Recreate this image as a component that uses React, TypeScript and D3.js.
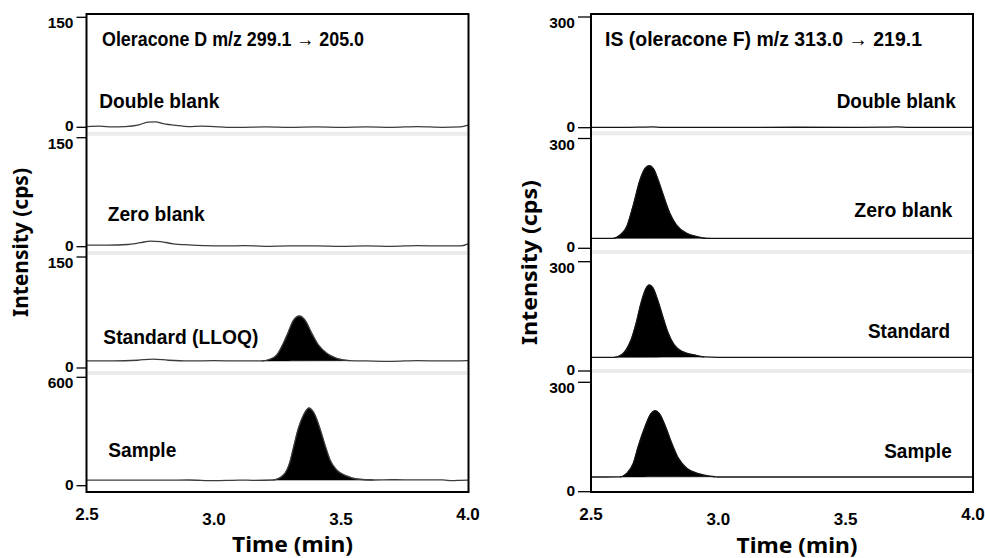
import React from 'react';
import * as d3 from 'd3';

type Pt = [number, number];

// ---------- data ----------
const timeTicks = [2.5, 3.0, 3.5, 4.0];
const timeDomain: [number, number] = [2.5, 4.0];

const leftTitle = 'Oleracone D m/z 299.1 \u2192 205.0';
const rightTitle = 'IS (oleracone F) m/z 313.0 \u2192 219.1';
const leftLabels = ['Double blank', 'Zero blank', 'Standard (LLOQ)', 'Sample'];
const rightLabels = ['Double blank', 'Zero blank', 'Standard', 'Sample'];
const leftMax = [150, 150, 150, 600];
const rightMax = [300, 300, 300, 300];
const xAxisTitle = 'Time (min)';
const yAxisTitle = 'Intensity (cps)';

const leftDoubleBlank: Pt[] = [
  [2.5, 1], [2.55, 1.5], [2.6, 0.5], [2.65, 1], [2.7, 3], [2.74, 7], [2.77, 7.5], [2.8, 5],
  [2.85, 2.5], [2.9, 1], [2.95, 1.5], [3.0, 1], [3.05, 0], [3.1, 0], [3.2, 0.5], [3.3, 0],
  [3.4, 0.5], [3.5, 0], [3.6, 0.5], [3.7, 0], [3.8, 1], [3.9, 0], [3.97, 0.5], [4.0, 3],
];
const leftZeroBlank: Pt[] = [
  [2.5, 2.3], [2.58, 2.3], [2.66, 3], [2.71, 5.5], [2.75, 7.8], [2.79, 7], [2.84, 4], [2.9, 2.5],
  [2.96, 1.5], [3.05, 1], [3.12, 1.5], [3.2, 0.5], [3.3, 1], [3.4, 1], [3.5, 0.5], [3.6, 1],
  [3.7, 0.5], [3.8, 1.5], [3.9, 1], [3.97, 1], [4.0, 4],
];
const leftStandard: Pt[] = [
  [2.5, 9.5], [2.6, 9.5], [2.7, 10.5], [2.76, 12], [2.82, 10.5], [2.9, 9.5], [3.0, 10], [3.1, 9.5],
  [3.188, 9.5], [3.22, 11.8], [3.247, 17.6], [3.273, 33.4], [3.293, 49.1], [3.312, 63.9],
  [3.336, 70.3], [3.358, 64.9], [3.385, 46.8], [3.411, 31.1], [3.444, 19.9], [3.483, 13.1],
  [3.535, 9.9], [3.6, 9.5], [3.7, 9], [3.8, 10], [3.9, 9.5], [4.0, 10],
];
const leftSample: Pt[] = [
  [2.5, 31], [2.6, 31], [2.7, 30.5], [2.8, 31], [2.9, 31.5], [3.0, 28], [3.05, 29], [3.1, 31],
  [3.155, 30], [3.233, 31.5], [3.273, 59], [3.299, 132], [3.312, 206], [3.332, 317], [3.352, 390],
  [3.374, 430], [3.398, 390], [3.417, 317], [3.437, 225], [3.457, 142], [3.483, 87], [3.522, 54],
  [3.562, 37], [3.627, 31.5], [3.7, 33], [3.8, 32], [3.9, 32], [3.94, 28], [3.97, 30], [4.0, 31],
];

const rightDoubleBlank: Pt[] = [
  [2.5, 1], [2.65, 1], [2.7, 1.5], [2.74, 2], [2.78, 1], [3.0, 1], [3.3, 1.2], [3.55, 1],
  [3.65, 1.5], [3.7, 2], [3.75, 1], [4.0, 1],
];
const rightZeroBlank: Pt[] = [
  [2.5, 27], [2.588, 27.3], [2.614, 36.3], [2.64, 59], [2.666, 118], [2.692, 186], [2.712, 218],
  [2.729, 225.7], [2.745, 218], [2.764, 186], [2.784, 145], [2.81, 95], [2.836, 63], [2.876, 41],
  [2.915, 32], [2.948, 27.5], [3.0, 27], [3.5, 27], [4.0, 27],
];
const rightStandard: Pt[] = [
  [2.5, 37.6], [2.591, 37.6], [2.618, 43.9], [2.637, 57.6], [2.657, 85], [2.677, 130.8],
  [2.696, 185.7], [2.716, 226.8], [2.729, 236], [2.742, 229.5], [2.762, 194.6], [2.782, 149],
  [2.801, 107.9], [2.827, 71.4], [2.86, 53], [2.906, 44], [2.945, 38.5], [3.0, 37.6], [3.5, 37.6],
  [4.0, 37.6],
];
const rightSample: Pt[] = [
  [2.5, 40.3], [2.614, 40.5], [2.64, 50.3], [2.666, 77.8], [2.685, 123.4], [2.712, 178],
  [2.734, 213], [2.751, 222], [2.768, 215], [2.79, 183], [2.817, 133], [2.843, 91.9], [2.876, 64.5],
  [2.915, 50.8], [2.987, 41], [3.0, 40.3], [3.5, 40.3], [4.0, 40.3],
];

const leftSeries = [leftDoubleBlank, leftZeroBlank, leftStandard, leftSample];
const rightSeries = [rightDoubleBlank, rightZeroBlank, rightStandard, rightSample];
const leftPeaks: ([number, number] | null)[] = [null, null, [3.188, 3.535], [3.233, 3.627]];
const rightPeaks: ([number, number] | null)[] = [null, [2.588, 2.948], [2.591, 2.945], [2.614, 2.987]];

// ---------- layout ----------
const FONT = "'Liberation Sans', Arial, sans-serif";
const TITLE_FONT = "'Noto Sans', 'Open Sans', sans-serif";

type Label = { x: number; y: number; w: number; anchor: 'start' | 'end' };
type Layout = {
  id: string;
  x0: number; x1: number; px0: number; px1: number;
  top: number; bottom: number;
  tops: number[]; bottoms: number[]; bands: number[];
  tickLen: number; tickGap: number;
  labels: Label[];
  title: { x: number; y: number; w: number };
  yTitle: { x: number; y: number; w: number };
  xTitle: { x: number; y: number; w: number };
  lineColor: string;
};

const LEFT: Layout = {
  id: 'L',
  x0: 86.5, x1: 468.5, px0: 87, px1: 468,
  top: 14, bottom: 492,
  tops: [17.3, 137.7, 257, 377.3],
  bottoms: [127.3, 246.7, 368, 485.7],
  bands: [133.8, 253, 373],
  tickLen: 10, tickGap: 13,
  labels: [
    { x: 99.3, y: 108, w: 120, anchor: 'start' },
    { x: 107.7, y: 220.7, w: 97, anchor: 'start' },
    { x: 103.3, y: 343.5, w: 155, anchor: 'start' },
    { x: 108.3, y: 456.5, w: 68, anchor: 'start' },
  ],
  title: { x: 102, y: 45.5, w: 262 },
  yTitle: { x: 28, y: 242.5, w: 149 },
  xTitle: { x: 292.5, y: 552, w: 121 },
  lineColor: '#3c3c3c',
};

const RIGHT: Layout = {
  id: 'R',
  x0: 591, x1: 973, px0: 591, px1: 973,
  top: 14, bottom: 492,
  tops: [17, 138.5, 261.7, 382.3],
  bottoms: [127.7, 248.3, 371, 491.7],
  bands: [133.3, 252, 371],
  tickLen: 13, tickGap: 16,
  labels: [
    { x: 955.7, y: 108.3, w: 119, anchor: 'end' },
    { x: 952.3, y: 216.7, w: 98, anchor: 'end' },
    { x: 950, y: 338.3, w: 82, anchor: 'end' },
    { x: 951.7, y: 458.3, w: 67.5, anchor: 'end' },
  ],
  title: { x: 605, y: 46.2, w: 317 },
  yTitle: { x: 537, y: 262.5, w: 165 },
  xTitle: { x: 797, y: 552.5, w: 121 },
  lineColor: '#151515',
};

function Panel({
  L, series, peaks, maxes, labels, title,
}: {
  L: Layout; series: Pt[][]; peaks: ([number, number] | null)[]; maxes: number[]; labels: string[]; title: string;
}) {
  const x = d3.scaleLinear().domain(timeDomain).range([L.px0, L.px1]);
  const clipId = `clip-${L.id}`;
  return (
    <g>
      <defs>
        <clipPath id={clipId}>
          <rect x={L.x0} y={L.top} width={L.x1 - L.x0} height={L.bottom - L.top} />
        </clipPath>
      </defs>
      {L.bands.map((b, i) => (
        <rect key={`b${i}`} x={L.x0 + 1} y={b - 2} width={L.x1 - L.x0 - 2} height={4} fill="#ebebeb" />
      ))}
      <g clipPath={`url(#${clipId})`}>
        {series.map((data, i) => {
          const y = d3.scaleLinear().domain([0, maxes[i]]).range([L.bottoms[i], L.tops[i]]);
          const line = d3.line<Pt>().x((d) => x(d[0])).y((d) => y(d[1])).curve(d3.curveMonotoneX);
          const pk = peaks[i];
          let areaPath: string | null = null;
          if (pk) {
            const seg = data.filter((d) => d[0] >= pk[0] - 1e-9 && d[0] <= pk[1] + 1e-9);
            const s = seg[0];
            const e = seg[seg.length - 1];
            const base = d3.scaleLinear().domain([s[0], e[0]]).range([s[1], e[1]]);
            const area = d3
              .area<Pt>()
              .x((d) => x(d[0]))
              .y0((d) => y(base(d[0])))
              .y1((d) => y(d[1]))
              .curve(d3.curveMonotoneX);
            areaPath = area(seg);
          }
          return (
            <g key={`s${i}`}>
              {areaPath && <path d={areaPath} fill="#000" stroke="#000" strokeWidth={0.6} />}
              <path d={line(data) || ''} fill="none" stroke={L.lineColor} strokeWidth={1.3} />
            </g>
          );
        })}
      </g>
      {maxes.map((m, i) => {
        const y = d3.scaleLinear().domain([0, m]).range([L.bottoms[i], L.tops[i]]);
        return (
          <g key={`t${i}`}>
            {[m, 0].map((v, j) => (
              <g key={j}>
                <line x1={L.x0 - L.tickLen} x2={L.x0} y1={y(v)} y2={y(v)} stroke="#000" strokeWidth={1.3} />
                <text
                  x={L.x0 - L.tickGap}
                  y={y(v) + (v === 0 ? 4 : 11)}
                  textAnchor="end"
                  fontFamily={FONT}
                  fontWeight="bold"
                  fontSize={15.5}
                  fill="#000"
                >
                  {String(v)}
                </text>
              </g>
            ))}
          </g>
        );
      })}
      <rect x={L.x0} y={L.top} width={L.x1 - L.x0} height={L.bottom - L.top} fill="none" stroke="#000" strokeWidth={2} />
      {timeTicks.map((t, i) => (
        <text
          key={`x${i}`}
          x={x(t)}
          y={i === 0 || i === timeTicks.length - 1 ? 520 : 525}
          textAnchor="middle"
          fontFamily={FONT}
          fontWeight="bold"
          fontSize={17}
          fill="#000"
        >
          {t.toFixed(1)}
        </text>
      ))}
      {labels.map((lab, i) => {
        const p = L.labels[i];
        return (
          <text
            key={`l${i}`}
            x={p.x}
            y={p.y}
            textAnchor={p.anchor}
            fontFamily={FONT}
            fontWeight="bold"
            fontSize={19.5}
            textLength={p.w}
            lengthAdjust="spacingAndGlyphs"
            fill="#000"
          >
            {lab}
          </text>
        );
      })}
      <text
        x={L.title.x}
        y={L.title.y}
        fontFamily={FONT}
        fontWeight="bold"
        fontSize={20.5}
        textLength={L.title.w}
        lengthAdjust="spacingAndGlyphs"
        fill="#000"
      >
        {title}
      </text>
      <text
        transform={`translate(${L.yTitle.x},${L.yTitle.y}) rotate(-90)`}
        textAnchor="middle"
        fontFamily={TITLE_FONT}
        fontWeight="bold"
        fontSize={21}
        textLength={L.yTitle.w}
        lengthAdjust="spacingAndGlyphs"
        fill="#000"
      >
        {yAxisTitle}
      </text>
      <text
        x={L.xTitle.x}
        y={L.xTitle.y}
        textAnchor="middle"
        fontFamily={TITLE_FONT}
        fontWeight="bold"
        fontSize={21}
        textLength={L.xTitle.w}
        lengthAdjust="spacingAndGlyphs"
        fill="#000"
      >
        {xAxisTitle}
      </text>
    </g>
  );
}

export default function App() {
  return (
    <svg
      width={985}
      height={558}
      viewBox="0 0 985 558"
      style={{ position: 'absolute', left: 0, top: 0, background: '#fff' }}
    >
      <rect x={0} y={0} width={985} height={558} fill="#fff" />
      <Panel L={LEFT} series={leftSeries} peaks={leftPeaks} maxes={leftMax} labels={leftLabels} title={leftTitle} />
      <Panel L={RIGHT} series={rightSeries} peaks={rightPeaks} maxes={rightMax} labels={rightLabels} title={rightTitle} />
    </svg>
  );
}
